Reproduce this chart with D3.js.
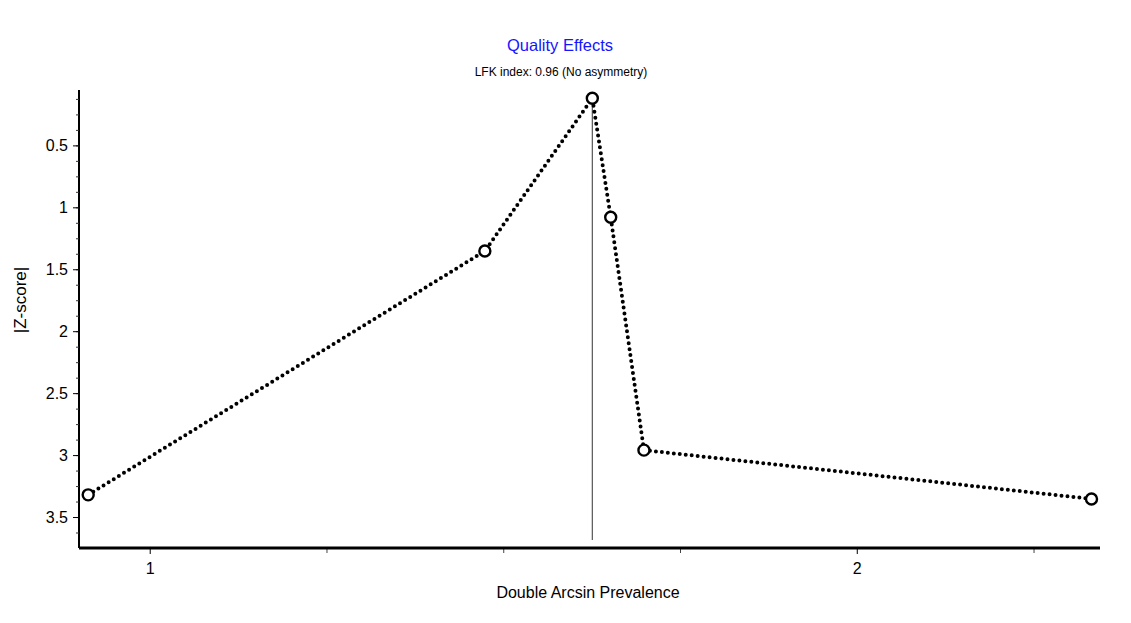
<!DOCTYPE html>
<html>
<head>
	<script src="https://d3js.org/d3.v7.min.js"></script>
	<meta charset="UTF-8">
	<style>
		body{ margin:0; background:#fff; }
		text{ font-family: "Liberation Sans", Arial, sans-serif; }
	</style>
</head>
<body>
	<script type="text/javascript">
		// Doi plot points (Double Arcsin Prevalence, |Z-score|)
		var effect = [0.913, 1.474, 1.626, 1.652, 1.699, 2.332];
		var zscore = [3.321, 1.353, 0.120, 1.080, 2.960, 3.354];
		var yTicks = [0.5, 1, 1.5, 2, 2.5, 3, 3.5];
		var xTicks = [1, 2];
		var refLineEnd = 3.685;

		var w = 1131, h = 623;
		var mLeft = 79, mRight = 1100, mTop = 90, mBottom = 548;

		var xScale = d3.scaleLinear().domain([0.9, 2.344]).range([mLeft, mRight]);
		var yScale = d3.scaleLinear().domain([0.053, 3.75]).range([mTop, mBottom]);

		var svg = d3.select('body').append('svg').attr('width', w).attr('height', h);

		var data = effect.map(function(d, i){ return {x: d, y: zscore[i]}; });

		//reference line at the most precise study
		var minI = d3.minIndex(zscore);
		svg.append("line")
			.attr("x1", xScale(effect[minI])).attr("x2", xScale(effect[minI]))
			.attr("y1", yScale(zscore[minI])).attr("y2", yScale(refLineEnd))
			.attr("stroke", "#555").attr("stroke-width", 1.2);

		//dotted line
		var line = d3.line().x(function(d){return xScale(d.x);}).y(function(d){return yScale(d.y);});
		svg.append("path").attr("d", line(data)).attr("fill", "none")
			.attr("stroke", "black").attr("stroke-width", 4)
			.attr("stroke-linecap", "round").attr("stroke-dasharray", "0 6");

		//points
		svg.selectAll("circle.pt").data(data).enter().append("circle")
			.attr("class", "pt")
			.attr("cx", function(d){return xScale(d.x);})
			.attr("cy", function(d){return yScale(d.y);})
			.attr("r", 5.5).attr("fill", "white").attr("stroke", "black").attr("stroke-width", 2.4);

		//y axis
		var yAxisG = svg.append("g").attr("transform", "translate(" + mLeft + ",0)");
		yAxisG.call(d3.axisLeft(yScale).tickValues(d3.range(0.125, 3.75, 0.125)).tickSize(3).tickFormat(""));
		yAxisG.selectAll(".tick line").attr("stroke", "#333");
		var yMajor = svg.append("g").attr("transform", "translate(" + mLeft + ",0)")
			.call(d3.axisLeft(yScale).tickValues(yTicks).tickSize(6).tickPadding(5).tickFormat(function(d){return d;}));
		yMajor.select(".domain").remove();
		yMajor.selectAll("text").style("font-size", "16px").attr("fill", "black").style("font-family", "Liberation Sans, Arial, sans-serif");
		yAxisG.select(".domain").attr("stroke-width", 2).attr("d", "M0," + mTop + "V" + mBottom);

		//x axis
		var xMinor = svg.append("g").attr("transform", "translate(0," + mBottom + ")")
			.call(d3.axisBottom(xScale).tickValues([1.25, 1.5, 1.75, 2.25]).tickSize(5).tickFormat(""));
		xMinor.select(".domain").remove();
		xMinor.selectAll(".tick line").attr("stroke", "#444");
		var xAxisG = svg.append("g").attr("transform", "translate(0," + mBottom + ")")
			.call(d3.axisBottom(xScale).tickValues(xTicks).tickSize(6).tickPadding(9).tickFormat(d3.format("d")));
		xAxisG.select(".domain").attr("stroke-width", 3).attr("d", "M" + mLeft + ",0H" + mRight);
		xAxisG.selectAll("text").style("font-size", "16px").attr("fill", "black").style("font-family", "Liberation Sans, Arial, sans-serif");

		//titles
		svg.append("text").attr("x", 560).attr("y", 51).attr("text-anchor", "middle")
			.style("font-size", "16.5px").attr("fill", "#1515ff").text("Quality Effects");
		svg.append("text").attr("x", 561).attr("y", 76).attr("text-anchor", "middle")
			.style("font-size", "12px").attr("fill", "black").text("LFK index: 0.96 (No asymmetry)");

		//axis labels
		svg.append("text").attr("x", 588).attr("y", 598).attr("text-anchor", "middle")
			.style("font-size", "16px").attr("fill", "black").text("Double Arcsin Prevalence");
		svg.append("text").attr("transform", "translate(26,300) rotate(-90)").attr("text-anchor", "middle")
			.style("font-size", "17px").attr("fill", "black").text("|Z-score|");
	</script>
</body>
</html>
